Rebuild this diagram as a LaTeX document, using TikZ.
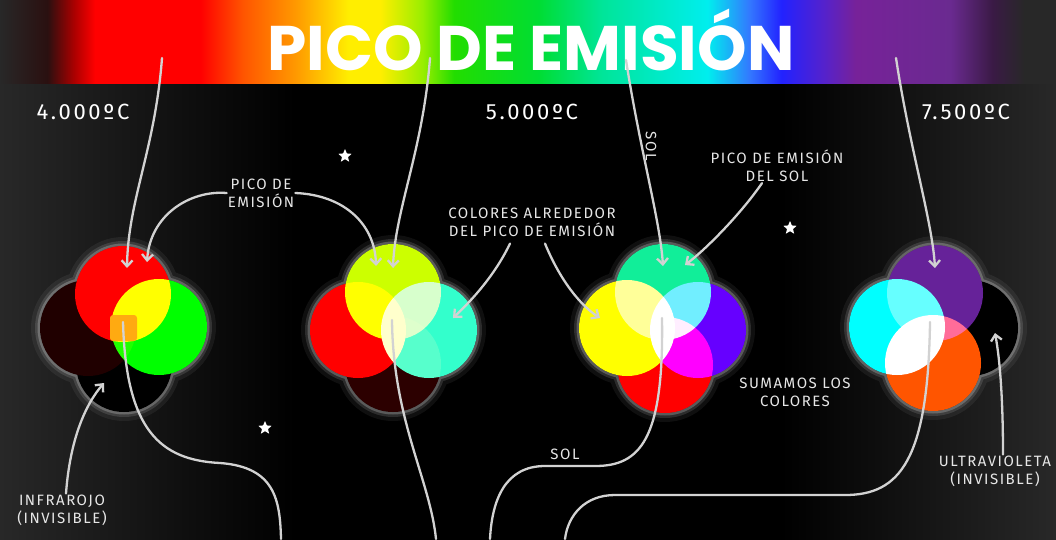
\documentclass[tikz,border=0pt]{standalone}
\usepackage{fontspec}
\setmainfont{Fira Sans}
\newfontfamily\titlefont{Poppins}
\newfontfamily\lblfont{Fira Sans}[LetterSpace=10]
\newfontfamily\tempfont{Fira Sans}[LetterSpace=12]
\usetikzlibrary{arrows.meta,shapes.geometric}

\definecolor{bgside}{HTML}{282828}
\definecolor{wiregray}{HTML}{D2D2D2}
\definecolor{labelgray}{HTML}{E6E6E6}
\definecolor{sp0}{HTML}{2A1010}
\definecolor{sp1}{HTML}{AA0000}
\definecolor{sp2}{HTML}{FF0000}
\definecolor{sp3}{HTML}{FF5500}
\definecolor{sp4}{HTML}{FF9900}
\definecolor{sp5}{HTML}{FFEE00}
\definecolor{sp6}{HTML}{99EE00}
\definecolor{sp7}{HTML}{22DD00}
\definecolor{sp8}{HTML}{00DD33}
\definecolor{sp9}{HTML}{00E599}
\definecolor{sp10}{HTML}{00EEEE}
\definecolor{sp11}{HTML}{3377FF}
\definecolor{sp12}{HTML}{2222FF}
\definecolor{sp13}{HTML}{5522CC}
\definecolor{sp14}{HTML}{772299}
\definecolor{sp15}{HTML}{6A2A90}
\definecolor{sp16}{HTML}{3A1A45}
\definecolor{darkred}{HTML}{200000}
\definecolor{deepred}{HTML}{2C0000}
\definecolor{pure red}{HTML}{FF0000}
\definecolor{pure green}{HTML}{00FF00}
\definecolor{pure yellow}{HTML}{FFFF00}
\definecolor{pure cyan}{HTML}{00FFFF}
\definecolor{lime}{HTML}{CCFF00}
\definecolor{aqua}{HTML}{33FFCC}
\definecolor{mint}{HTML}{11EE99}
\definecolor{violet}{HTML}{6600FF}
\definecolor{plum}{HTML}{662299}
\definecolor{redorange}{HTML}{FF5500}
\definecolor{patch}{HTML}{FFAA11}
\definecolor{nightblack}{HTML}{000000}

% tikz shows the 25bp--75bp band of a shading
\pgfdeclarehorizontalshading{spectrum}{100bp}{color(0bp)=(bgside); color(25bp)=(bgside);
  color(27.25bp)=(sp0); color(28.5bp)=(sp1); color(29.5bp)=(sp2); color(34.5bp)=(sp2);
  color(36.5bp)=(sp3); color(39bp)=(sp4); color(41.5bp)=(sp5); color(43bp)=(sp5);
  color(45bp)=(sp6); color(46.5bp)=(sp7); color(50.5bp)=(sp8); color(53.5bp)=(sp9);
  color(58.5bp)=(sp10); color(60.5bp)=(sp11); color(62bp)=(sp12); color(64bp)=(sp13);
  color(65.5bp)=(sp14); color(70bp)=(sp15); color(72bp)=(sp16); color(73.5bp)=(bgside);
  color(100bp)=(bgside)}
\pgfdeclarehorizontalshading{backdrop}{100bp}{color(0bp)=(bgside); color(25bp)=(bgside);
  color(39bp)=(nightblack); color(62bp)=(nightblack); color(75bp)=(bgside); color(100bp)=(bgside)}

\pgfdeclarelayer{back}
\pgfsetlayers{back,main}

\begin{document}
\begin{tikzpicture}[x=1pt,y=-1pt,
   disc/.style={circle,inner sep=0pt,minimum size=96pt,fill=#1},
   lbl/.style={text=labelgray,font=\lblfont\fontsize{15}{18}\selectfont,align=center,inner sep=1pt},
   temp/.style={text=white,font=\tempfont\fontsize{22}{24}\selectfont,inner sep=0pt},
   to/.style={-{Straight Barb[length=6pt,width=11pt]},line width=2.3pt,draw=wiregray,line cap=round},
   wire/.style={line width=2.3pt,draw=wiregray,line cap=round},
   twinkle/.style={star,star points=5,star point ratio=2.2,fill=white,inner sep=0pt,minimum size=14pt}]
\useasboundingbox (0,0) rectangle (1056,539);

% fondo y espectro
\begin{pgfonlayer}{back}
\shade[shading=backdrop] (0,0) rectangle (1056,539);
\shade[shading=spectrum] (0,0) rectangle (1056,83);
\end{pgfonlayer}
\node[text=white,font=\titlefont\bfseries\fontsize{63}{63}\selectfont,inner sep=0pt] (title) at (531,40) {PICO DE EMISIÓN};

\node[temp] (t1) at (83,112) {4.000ºC};
\node[temp] (t2) at (532,112) {5.000ºC};
\node[temp] (t3) at (966,112) {7.500ºC};

% los circulos se suman (screen)
\begin{scope}[blend mode=screen]
% 4.000 C
\node[disc=darkred] (k1d) at (88,328) {};
\node[disc=nightblack] (k1b) at (124,364) {};
\node[disc=pure red] (k1r) at (123,294) {};
\node[disc=pure green] (k1g) at (159,327) {};
% 5.000 C
\node[disc=deepred] (k2d) at (393,364) {};
\node[disc=pure red] (k2r) at (358,330) {};
\node[disc=aqua] (k2a) at (429,330) {};
\node[disc=lime] (k2l) at (393,292) {};
% sol
\node[disc=pure red] (k3r) at (665,365) {};
\node[disc=violet] (k3v) at (698,330) {};
\node[disc=pure yellow] (k3y) at (627,328) {};
\node[disc=mint] (k3m) at (663,292) {};
% 7.500 C
\node[disc=nightblack] (k4k) at (970,328) {};
\node[disc=plum] (k4p) at (935,293) {};
\node[disc=pure cyan] (k4c) at (897,327) {};
\node[disc=redorange] (k4o) at (933,363) {};
\end{scope}
\fill[patch,rounded corners=3pt] (110,315) rectangle (137,341);

% halos, y base negra bajo los circulos
\begin{pgfonlayer}{back}
\foreach \g/\o in {57pt/.06,53pt/.12,50.5pt/.22} {
  \begin{scope}[transparency group,opacity=\o]
  \foreach \c in {k1d,k1b,k1r,k1g,k2d,k2r,k2a,k2l,k3r,k3v,k3y,k3m,k4k,k4p,k4c,k4o}
    \fill[white] (\c) circle (\g);
  \end{scope}
}
\foreach \c in {k1d,k1b,k1r,k1g,k2d,k2r,k2a,k2l,k3r,k3v,k3y,k3m,k4k,k4p,k4c,k4o}
  \fill[nightblack] (\c) circle (48pt);
\end{pgfonlayer}

\node[lbl] (lp) at (261,193) {PICO DE\\EMISIÓN};
\node[lbl] (lc) at (532,222) {COLORES ALREDEDOR\\DEL PICO DE EMISIÓN};
\node[lbl] (ls) at (777,166) {PICO DE EMISIÓN\\DEL SOL};
\node[lbl] (lsum) at (795,392) {SUMAMOS LOS\\COLORES};
\node[lbl] (lir) at (62,510) {INFRAROJO\\(INVISIBLE)};
\node[lbl] (luv) at (995,471) {ULTRAVIOLETA\\(INVISIBLE)};
\node[lbl] (lsol) at (565,454) {SOL};
\node[lbl,rotate=-90] (lsolv) at (651,146) {SOL};

\node[twinkle] (st1) at (345,156) {};
\node[twinkle] (st2) at (790,228) {};
\node[twinkle] (st3) at (265,428) {};

\coordinate (s1) at (162,58);
\coordinate (s2) at (430,58);
\coordinate (s3) at (626,60);
\coordinate (s4) at (896,58);
\coordinate (a1) at (127,268);
\coordinate (a2) at (147,262);
\coordinate (a3) at (376,266);
\coordinate (a4) at (393,268);
\coordinate (a5) at (453,318);
\coordinate (a6) at (600,318);
\coordinate (a7) at (663,266);
\coordinate (a8) at (685,265);
\coordinate (a9) at (935,268);
\coordinate (a10) at (104,383);
\coordinate (a11) at (995,333);
\coordinate (m1) at (123,322);
\coordinate (m2) at (392,320);
\coordinate (m3) at (662,318);
\coordinate (m4) at (930,322);
\coordinate (e1) at (281,539);
\coordinate (e2) at (436,539);
\coordinate (e3) at (490,539);
\coordinate (e4) at (565,539);

\draw[to] (s1) .. controls (155,150) and (128,200) .. (a1);
\draw[to] (lp.west) .. controls (190,190) and (150,215) .. (a2);
\draw[to] (lp.east) .. controls (345,195) and (375,225) .. (a3);
\draw[to] (s2) .. controls (423,150) and (395,210) .. (a4);
\draw[to] ([xshift=-22pt,yshift=-6pt]lc.south) .. controls (495,275) and (472,300) .. (a5);
\draw[to] ([xshift=13pt,yshift=-6pt]lc.south) .. controls (560,280) and (580,305) .. (a6);
\draw[to] (s3) .. controls (640,150) and (660,220) .. (a7);
\draw[to] ([xshift=-15pt]ls.south) .. controls (740,215) and (705,250) .. (a8);
\draw[to] (s4) .. controls (910,150) and (932,220) .. (a9);
\draw[to] ([xshift=4pt]lir.north) .. controls (70,440) and (85,405) .. (a10);
\draw[to] ([xshift=8pt]luv.north) .. controls (1003,400) and (1000,360) .. (a11);

\draw[wire] (m1) .. controls (126,430) and (160,460) .. (220,463) .. controls (275,467) and (280,500) .. (e1);
\draw[wire] (m2) .. controls (393,420) and (430,480) .. (e2);
\draw[wire] (m3) .. controls (664,440) and (640,466) .. (595,466) -- (545,466) .. controls (505,466) and (492,500) .. (e3);
\draw[wire] (m4) .. controls (928,460) and (900,495) .. (845,495) -- (615,495) .. controls (585,495) and (568,515) .. (e4);
\end{tikzpicture}
\end{document}
